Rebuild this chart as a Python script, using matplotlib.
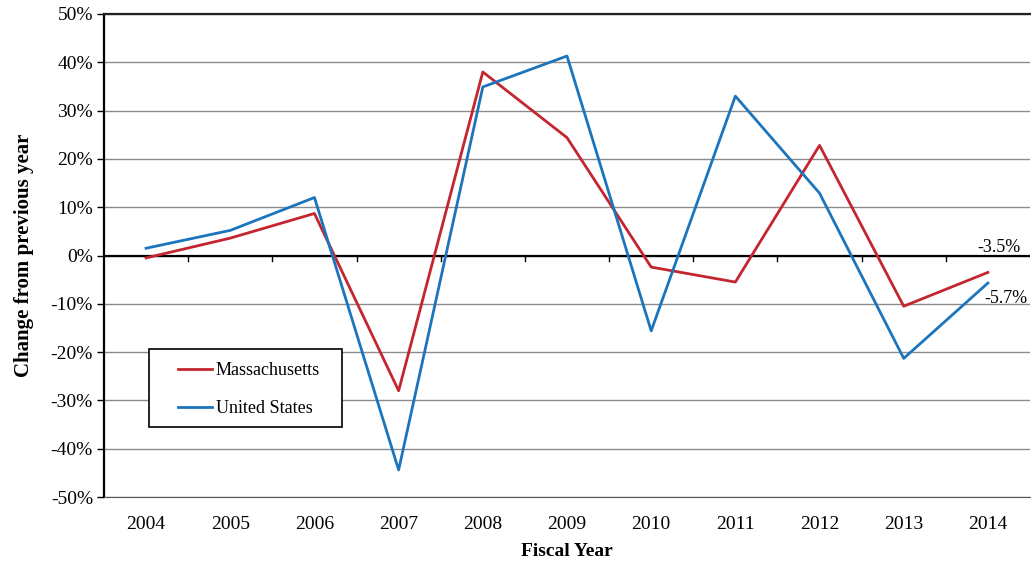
import matplotlib
matplotlib.use("Agg")
import matplotlib.pyplot as plt
from matplotlib.patches import Rectangle
from matplotlib.ticker import FuncFormatter, MultipleLocator

plt.rcParams['font.family'] = ['Liberation Serif', 'DejaVu Serif']

years = ["2004", "2005", "2006", "2007", "2008", "2009", "2010", "2011", "2012", "2013", "2014"]
massachusetts = [-0.5, 3.6, 8.7, -28.0, 38.0, 24.4, -2.4, -5.5, 22.8, -10.5, -3.5]
united_states = [1.5, 5.2, 12.0, -44.4, 34.9, 41.3, -15.6, 33.0, 12.9, -21.3, -5.7]

red = "#C3262E"
blue = "#1C75BC"

fig = plt.figure(figsize=(10.31, 5.61), dpi=100)
ax = fig.add_axes([104 / 1031, 64 / 561, 926 / 1031, 483 / 561])

x = list(range(len(years)))
ax.plot(x, massachusetts, color=red, lw=2, label="Massachusetts")
ax.plot(x, united_states, color=blue, lw=2, label="United States")

ax.set_xlim(-0.5, len(years) - 0.5)
ax.set_ylim(-50, 50)
ax.yaxis.set_major_locator(MultipleLocator(10))
ax.yaxis.set_major_formatter(FuncFormatter(lambda v, p: f"{v:.0f}%"))
ax.grid(axis="y", color="#8c8c8c", lw=1)
ax.set_axisbelow(True)

# zero line acts as category axis, with ticks at category boundaries
ax.axhline(0, color="black", lw=1.6, zorder=1.5)
for b in range(1, len(years)):
    ax.plot([b - 0.5, b - 0.5], [0, -1.1], color="black", lw=1, zorder=1.5)

ax.set_xticks(x)
ax.set_xticklabels(years)
ax.tick_params(axis="x", length=0, pad=14, labelsize=14)
ax.tick_params(axis="y", length=5, width=1, labelsize=14, direction="out", pad=3)

ax.spines["right"].set_visible(False)
ax.spines["top"].set_color("#222222")
ax.spines["top"].set_linewidth(1.6)
ax.spines["bottom"].set_color("#555555")
ax.spines["left"].set_linewidth(1.6)

ax.set_xlabel("Fiscal Year", fontsize=14, fontweight="bold", labelpad=7)
ax.set_ylabel("Change from previous year", fontsize=15, fontweight="bold", labelpad=12)

# end-of-series labels
ax.text(10.39, 1.6, f"{massachusetts[-1]:.1f}%", fontsize=13, va="center", ha="right")
ax.text(10.47, -9.0, f"{united_states[-1]:.1f}%", fontsize=13, va="center", ha="right")

# legend: frame drawn separately so the padding matches the reference
ax.add_patch(Rectangle((45 / 926, 70 / 483), 193 / 926, 78 / 483, transform=ax.transAxes,
                       facecolor="white", edgecolor="black", lw=1.2, zorder=4))
leg = ax.legend(loc="upper left", bbox_to_anchor=(74 / 926, 135 / 483), fontsize=13,
                frameon=False, handlelength=1.9, labelspacing=1.17, borderpad=0,
                handletextpad=0.2, borderaxespad=0)
leg.set_zorder(5)

fig.savefig("out.png", dpi=100)
